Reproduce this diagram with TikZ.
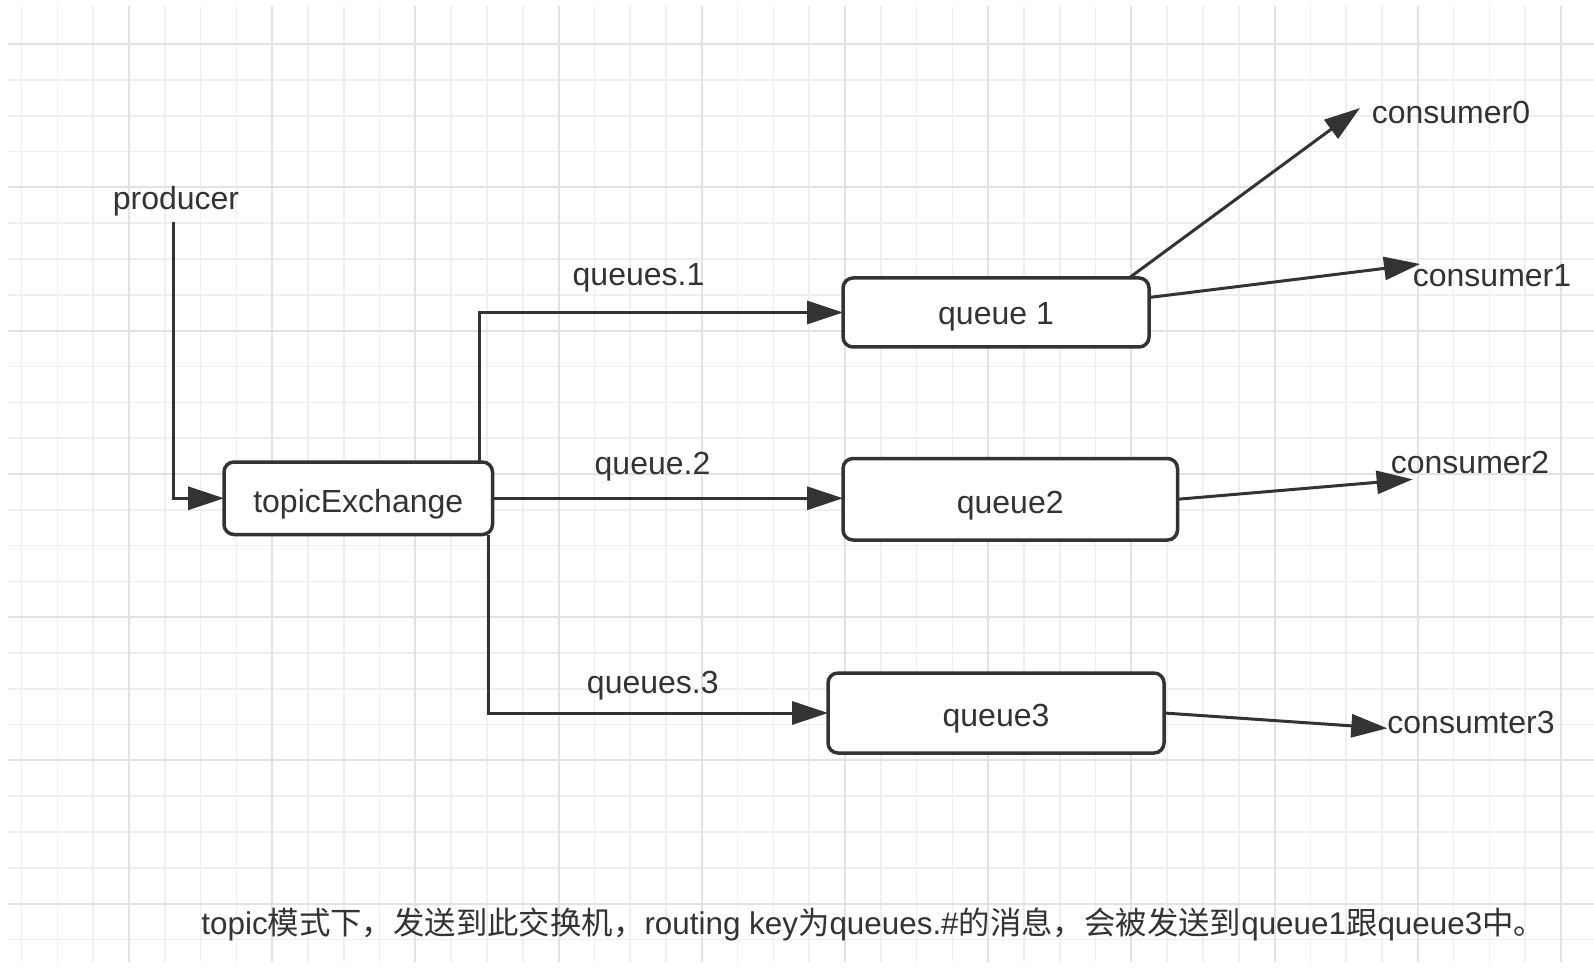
\documentclass[tikz,border=0pt]{standalone}
\usepackage{fontspec}
\setmainfont{Liberation Sans}
\newfontfamily\cjkf{Noto Sans CJK SC}
\usetikzlibrary{arrows.meta,calc}
\definecolor{ln}{HTML}{333333}
\definecolor{gmin}{HTML}{EFEFEF}
\definecolor{gmaj}{HTML}{E2E2E2}
\begin{document}
\begin{tikzpicture}[x=0.5pt,y=-0.5pt,
  lbl/.style={font=\fontsize{16pt}{19pt}\selectfont, text=ln, inner sep=0pt, text height=13.8pt, text depth=0pt},
  qbox/.style={lbl, draw=ln, line width=1.75pt, rounded corners=5pt, fill=white, outer sep=0pt},
  arr/.style={draw=ln, line width=1.5pt, -{Triangle[length=18pt,width=11.5pt]}},
  gridminor/.style={draw=gmin, line width=0.8pt},
  gridmajor/.style={draw=gmaj, line width=1pt}]
\useasboundingbox (0,0) rectangle (1594,978);
\fill[white] (0,0) rectangle (1594,978);
% grid
\foreach \k in {0,...,43}{
  \pgfmathsetmacro\xx{21.5+35.8*\k}
  \draw[gridminor] (\xx,6) -- (\xx,962);
}
\foreach \k in {0,...,25}{
  \pgfmathsetmacro\yy{44.3+35.8*\k}
  \draw[gridminor] (8,\yy) -- (1594,\yy);
}
\foreach \k in {3,7,...,43}{
  \pgfmathsetmacro\xx{21.5+35.8*\k}
  \draw[gridmajor] (\xx,6) -- (\xx,962);
}
\foreach \k in {0,4,...,24}{
  \pgfmathsetmacro\yy{44.3+35.8*\k}
  \draw[gridmajor] (8,\yy) -- (1594,\yy);
}
% nodes
\node[lbl] (prod) at (176,196) {producer};
\node[qbox, minimum width=134.25pt, minimum height=36.25pt] (tx) at (358.25,498.25) {topicExchange};
\node[qbox, minimum width=153pt, minimum height=34.5pt] (q1) at (996,312.5) {\raisebox{1pt}{queue 1}};
\node[qbox, minimum width=167.25pt, minimum height=40.75pt] (q2) at (1010.25,499.25) {queue2};
\node[qbox, minimum width=168pt, minimum height=40pt] (q3) at (996,713) {queue3};
\node[lbl] (l1) at (638.5,272) {queues.1};
\node[lbl] (l2) at (652.5,461) {queue.2};
\node[lbl] (l3) at (652.8,680) {queues.3};
\node[lbl] (c0) at (1451,110) {consumer0};
\node[lbl] (c1) at (1492,273) {consumer1};
\node[lbl] (c2) at (1470,460) {consumer2};
\node[lbl] (c3) at (1471,720) {consumter3};
\node[lbl, font=\fontsize{15.7pt}{19pt}\selectfont, anchor=west] (cap) at (201,921) {topic{\cjkf 模式下，发送到此交换机，}routing key{\cjkf 为}queues.\#{\cjkf 的消息，会被发送到}queue1{\cjkf 跟}queue3{\cjkf 中。}};
% connectors
\coordinate (p0) at (173,222);
\coordinate (xa) at (479,0);
\coordinate (xb) at (488,0);
\coordinate (t0) at (1360,108);
\coordinate (t1) at (1420,264);
\coordinate (t2) at (1412.7,479.3);
\coordinate (t3) at (1387.3,728.3);
\draw[arr] (p0) |- (tx.west);
\draw[arr] (tx.north -| xa) |- (q1.west);
\draw[arr] (tx.east) -- (tx.east -| q2.west);
\draw[arr] (tx.south -| xb) |- (q3.west);
\draw[arr] ($(q1.north east)+(-20,0)$) -- (t0);
\draw[arr] ($(q1.east)+(0,-15)$) -- (t1);
\draw[arr] (q2.east) -- (t2);
\draw[arr] (q3.east) -- (t3);
\end{tikzpicture}
\end{document}
